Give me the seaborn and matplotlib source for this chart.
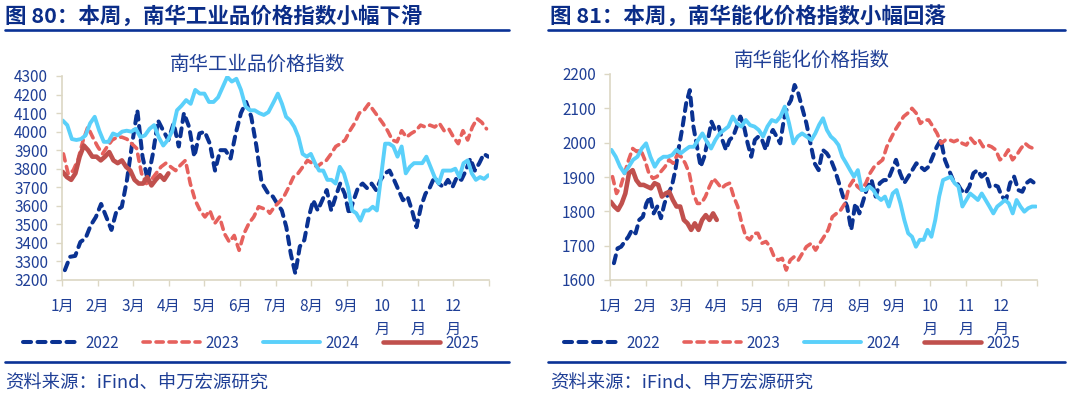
import numpy as np
import pandas as pd
import matplotlib
matplotlib.use('Agg')
import matplotlib.pyplot as plt
import seaborn as sns
from matplotlib.lines import Line2D

sns.set_style('ticks')
plt.rcParams['font.family'] = ['Noto Sans CJK SC', 'DejaVu Sans']

# === Data, each year split in two halves ===
years = ['2022', '2023', '2024', '2025']
month_labels = ['1月', '2月', '3月', '4月', '5月', '6月', '7月', '8月', '9月', '10\n月', '11\n月', '12\n月']

# 南华工业品价格指数
ind_2022_a = [3253, 3325, 3330, 3405, 3425, 3495, 3540, 3610, 3540, 3470, 3575, 3595, 3740, 3935, 4115, 3865,
              3740, 3880, 4060, 4005, 3955, 4045, 3920, 4100, 4025, 3865, 3990, 4000, 3935, 3790, 3900, 3900,
              3855, 3990, 4100, 4160, 4080, 3920, 3725]
ind_2022_b = [3665, 3650, 3610, 3575, 3485, 3340, 3235, 3380, 3415, 3540, 3630, 3575, 3630, 3685, 3575, 3650,
              3720, 3665, 3555, 3630, 3700, 3720, 3695, 3720, 3685, 3740, 3775, 3790, 3740, 3685, 3630, 3650,
              3575, 3485, 3595, 3665, 3700, 3755, 3720, 3700, 3740, 3700, 3755, 3740, 3790, 3855, 3790, 3830,
              3880, 3865]
ind_2023_a = [3880, 3770, 3790, 3850, 3950, 4025, 3970, 3920, 3880, 3920, 3955, 3970, 3970, 3960, 3935, 3910,
              3775, 3720, 3740, 3775, 3810, 3830, 3810, 3790, 3820, 3845, 3720, 3630, 3575, 3540, 3575, 3505,
              3540, 3450, 3405, 3440, 3360, 3450, 3505, 3540, 3595, 3585, 3570]
ind_2023_b = [3560, 3595, 3620, 3650, 3700, 3755, 3775, 3810, 3845, 3830, 3810, 3830, 3845, 3880, 3920, 3935,
              3955, 4005, 4045, 4100, 4115, 4150, 4115, 4080, 4045, 4005, 3955, 3945, 4005, 3970, 3990, 4005,
              4035, 4025, 4035, 4025, 4045, 4005, 4015, 3970, 3935, 4005, 3955, 4025, 4070, 4050, 4015]
ind_2024_a = [4060, 4035, 3960, 3955, 3960, 3980, 4045, 4080, 4005, 3945, 3945, 3990, 3980, 4000, 4005, 4000,
              4015, 3970, 3980, 4015, 4035, 3970, 3925, 3955, 4005, 4115, 4140, 4170, 4150, 4225, 4205, 4205,
              4160, 4160, 4185, 4240, 4295, 4270, 4285, 4225, 4135, 4115, 4115, 4100, 4090, 4105]
ind_2024_b = [4160, 4205, 4150, 4080, 4060, 4025, 3970, 3880, 3865, 3880, 3830, 3790, 3790, 3740, 3740, 3720,
              3810, 3775, 3700, 3575, 3560, 3520, 3575, 3575, 3595, 3575, 3755, 3935, 3935, 3920, 3865, 3920,
              3775, 3810, 3830, 3830, 3830, 3865, 3810, 3755, 3720, 3790, 3790, 3790, 3800, 3755, 3830, 3845,
              3775, 3740, 3755, 3745, 3765]
ind_2025_a = [3783, 3755, 3740, 3775, 3865, 3925, 3900, 3865, 3865, 3845, 3865, 3890, 3845, 3830, 3845, 3810,
              3790, 3740, 3720, 3720, 3755, 3710, 3740, 3765, 3740, 3775]
ind_2025_b = []

# 南华能化价格指数
ene_2022_a = [1649, 1692, 1697, 1712, 1726, 1746, 1736, 1775, 1784, 1823, 1843, 1794, 1814, 1780, 1823, 1852,
              1872, 1920, 1988, 2047, 2115, 2153, 2047, 1988, 1930, 1959, 2008, 2061, 2037, 2047, 2008, 1979,
              2008, 2018, 2047, 2076, 2047, 1998, 1959, 2008, 2018, 2008, 1979, 2018, 2037, 2018, 1998, 2066,
              2105, 2124, 2168, 2144]
ene_2022_b = [2056, 1998, 1940, 1920, 1979, 1969, 1950, 1920, 1882, 1843, 1814, 1746, 1823, 1794, 1833, 1872,
              1891, 1843, 1882, 1891, 1891, 1920, 1950, 1911, 1882, 1901, 1920, 1940, 1930, 1920, 1930, 1959,
              1988, 2008, 1950, 1920, 1891, 1882, 1862, 1852, 1872, 1911, 1920, 1901, 1911, 1872, 1877, 1872,
              1843, 1833, 1882, 1901, 1862, 1857, 1882, 1891, 1882]
ene_2023_a = [1901, 1852, 1872, 1911, 1950, 1983, 1974, 1979, 1950, 1911, 1896, 1901, 1916, 1930, 1950, 1940,
              1964, 1959, 1940, 1911, 1852, 1823, 1823, 1843, 1872, 1896, 1882, 1867, 1877, 1882, 1843, 1814,
              1765, 1726, 1717, 1736, 1736, 1707, 1712, 1697, 1668, 1658, 1663, 1629, 1658, 1668, 1658, 1678,
              1697]
ene_2023_b = [1707, 1687, 1707, 1726, 1746, 1784, 1794, 1804, 1823, 1872, 1891, 1872, 1862, 1882, 1911, 1930,
              1940, 1950, 1988, 2013, 2037, 2056, 2076, 2086, 2100, 2086, 2056, 2066, 2066, 2047, 2027, 1998,
              2008, 2008, 2003, 2008, 1998, 1993, 2013, 1998, 2008, 1988, 1993, 1988, 1979, 1950, 1959, 1979,
              1950, 1964, 1983, 1998, 1988, 1983]
ene_2024_a = [1979, 1959, 1930, 1911, 1930, 1950, 1959, 1983, 1998, 1959, 1930, 1950, 1959, 1959, 1964, 1979,
              1969, 1979, 1988, 1988, 2008, 2027, 2003, 1983, 2008, 2027, 2037, 2047, 2076, 2056, 2047, 2066,
              2051, 2047, 2037, 2018, 2047, 2066, 2061, 2076, 2105, 2056, 1998, 2018, 2027, 2018]
ene_2024_b = [2008, 2027, 2052, 2071, 2037, 2018, 2008, 1993, 1959, 1940, 1920, 1901, 1920, 1862, 1862, 1872,
              1862, 1843, 1833, 1843, 1814, 1852, 1862, 1823, 1775, 1736, 1726, 1697, 1717, 1717, 1746, 1726,
              1775, 1843, 1891, 1896, 1901, 1882, 1872, 1814, 1833, 1852, 1843, 1833, 1852, 1833, 1814, 1794,
              1814, 1823, 1833, 1823, 1794, 1833, 1814, 1799, 1809, 1814, 1814]
ene_2025_a = [1828, 1814, 1804, 1823, 1852, 1911, 1920, 1891, 1877, 1877, 1872, 1867, 1882, 1877, 1843, 1852,
              1857, 1833, 1814, 1814, 1775, 1765, 1746, 1765, 1746, 1775, 1789, 1775, 1794, 1775]
ene_2025_b = []

# month span (start, end) of each half, per year
ind_spans = {'2022': [(0.08, 5.61), (5.80, 11.98)], '2023': [(0.04, 5.80), (5.84, 11.93)],
             '2024': [(0.02, 5.80), (5.95, 11.98)], '2025': [(0.02, 2.99), (3.0, 3.0)]}
ene_spans = {'2022': [(0.11, 5.29), (5.52, 11.93)], '2023': [(0.07, 5.52), (5.66, 11.90)],
             '2024': [(0.04, 5.52), (5.66, 11.97)], '2025': [(0.02, 3.00), (3.0, 3.0)]}

ind_data = {'2022': (ind_2022_a, ind_2022_b), '2023': (ind_2023_a, ind_2023_b),
            '2024': (ind_2024_a, ind_2024_b), '2025': (ind_2025_a, ind_2025_b)}
ene_data = {'2022': (ene_2022_a, ene_2022_b), '2023': (ene_2023_a, ene_2023_b),
            '2024': (ene_2024_a, ene_2024_b), '2025': (ene_2025_a, ene_2025_b)}

# === Styles ===
palette = {'2022': '#0a3292', '2023': '#e6615d', '2024': '#5ad0fa', '2025': '#c0504d'}
widths = {'2022': 2.9, '2023': 2.6, '2024': 2.8, '2025': 3.3}
dashes = {'2022': (2.0, 1.6), '2023': (2.0, 1.6), '2024': '', '2025': ''}
navy = '#0b2d88'
text_blue = '#1f3f96'
spine_col = '#dcd7c4'


def to_long(data, spans):
    rows = []
    for yr in years:
        for vals, (s, e) in zip(data[yr], spans[yr]):
            if len(vals) == 0:
                continue
            for m, v in zip(np.linspace(s, e, len(vals)), vals):
                rows.append({'month': m, 'value': v, 'year': yr})
    return pd.DataFrame(rows)


W, H = 1080, 399
fig = plt.figure(figsize=(W / 100, H / 100), dpi=100)


def draw_panel(x0, x1, y_top, ylo, yhi, data, spans, fig_title, inner_title, title_x,
               line_x0, line_x1, legend_cx):
    ax = fig.add_axes([x0 / W, 1 - 280 / H, (x1 - x0) / W, (280 - y_top) / H])
    df = to_long(data, spans)
    sns.lineplot(data=df, x='month', y='value', hue='year', style='year', size='year',
                 hue_order=years, style_order=years, size_order=years,
                 palette=palette, dashes=dashes, sizes=widths,
                 estimator=None, sort=False, legend=False, ax=ax)
    for ln in ax.lines:
        ln.set_dash_capstyle('round')
        ln.set_solid_capstyle('round')
        ln.set_solid_joinstyle('round')

    ax.set_xlim(0, 12)
    ax.set_ylim(ylo, yhi)
    ax.set_xticks(range(13))
    ax.set_xticklabels(month_labels + [''])
    ax.set_yticks(range(ylo, yhi + 1, 100))
    ax.set_xlabel('')
    ax.set_ylabel('')
    sns.despine(ax=ax)
    for sp in ['left', 'bottom']:
        ax.spines[sp].set_color(spine_col)
        ax.spines[sp].set_linewidth(1.2)
    ax.tick_params(axis='both', colors=spine_col, labelcolor=text_blue, labelsize=11, length=4, width=1)
    ax.tick_params(axis='x', pad=9)
    ax.tick_params(axis='y', pad=6)
    for lbl in ax.get_xticklabels():
        lbl.set_linespacing(1.45)

    fig.text(title_x / W, 1 - 16 / H, fig_title, fontsize=15.5, fontweight='bold', color=navy,
             ha='left', va='center')
    fig.add_artist(Line2D([line_x0 / W, line_x1 / W], [1 - 29.5 / H] * 2, transform=fig.transFigure,
                          color='#0a3296', lw=1.9))
    fig.text(inner_title[1] / W, 1 - inner_title[2] / H, inner_title[0], fontsize=14, color=text_blue,
             ha='center', va='center')

    handles = [ax.lines[i] for i in range(4)]
    fig.legend(handles, years, loc='center', bbox_to_anchor=(legend_cx / W, 1 - 343 / H),
               ncol=4, frameon=False, handlelength=3.7, columnspacing=1.6, handletextpad=0.35,
               fontsize=11, labelcolor=text_blue)

    fig.add_artist(Line2D([line_x0 / W, line_x1 / W], [1 - 362 / H] * 2, transform=fig.transFigure,
                          color='#0a3296', lw=1.9))
    fig.text(title_x / W, 1 - 384 / H, '资料来源：iFind、申万宏源研究', fontsize=13.2, color=text_blue,
             ha='left', va='center')
    return ax


draw_panel(62, 489, 76, 3200, 4300, ind_data, ind_spans,
           '图 80：本周，南华工业品价格指数小幅下滑', ('南华工业品价格指数', 258, 64),
           5, 5, 509, 251)
draw_panel(610, 1037, 74, 1600, 2200, ene_data, ene_spans,
           '图 81：本周，南华能化价格指数小幅回落', ('南华能化价格指数', 812, 60),
           550, 548, 1065, 792)

fig.savefig('out.png', dpi=100, facecolor='white')
